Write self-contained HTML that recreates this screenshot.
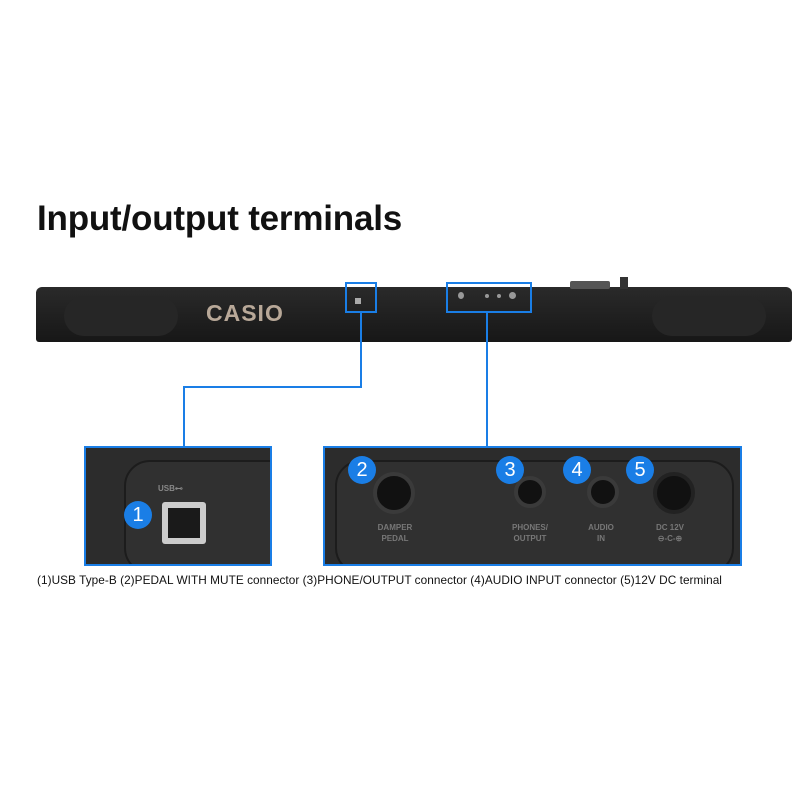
<!DOCTYPE html>
<html><head><style>
body{margin:0;width:800px;height:800px;background:#fff;position:relative;overflow:hidden;font-family:"Liberation Sans",sans-serif}
.a{position:absolute}
.num{position:absolute;width:28px;height:28px;border-radius:50%;background:#1a7ee6;color:#fff;font-size:20px;text-align:center;line-height:28px}
.jack{position:absolute;border-radius:50%;background:#111;border:4px solid #3a3a3a}
.lbl{position:absolute;color:#777;font-size:8px;text-align:center;line-height:11px;font-weight:bold}
</style></head><body>
<div class="a" style="left:37px;top:199px;font-size:35px;font-weight:bold;color:#111;letter-spacing:-0.2px">Input/output terminals</div>
<!-- piano -->
<div class="a" style="left:36px;top:287px;width:756px;height:55px;background:linear-gradient(#2a2a2a,#171717);border-radius:6px 6px 3px 3px"></div>
<div class="a" style="left:570px;top:281px;width:40px;height:8px;background:#555;border-radius:2px"></div>
<div class="a" style="left:620px;top:277px;width:8px;height:12px;background:#333"></div>
<div class="a" style="left:64px;top:296px;width:114px;height:40px;border-radius:20px;background:#262626"></div>
<div class="a" style="left:652px;top:296px;width:114px;height:40px;border-radius:20px;background:#262626"></div>
<div class="a" style="left:206px;top:300px;font-size:23px;font-weight:bold;color:#b8a898;letter-spacing:1px">CASIO</div>
<div class="a" style="left:355px;top:298px;width:6px;height:6px;background:#aaa"></div>
<div class="a" style="left:458px;top:292px;width:6px;height:7px;border-radius:50%;background:#999"></div>
<div class="a" style="left:485px;top:294px;width:4px;height:4px;border-radius:50%;background:#999"></div>
<div class="a" style="left:497px;top:294px;width:4px;height:4px;border-radius:50%;background:#999"></div>
<div class="a" style="left:509px;top:292px;width:7px;height:7px;border-radius:50%;background:#999"></div>
<div class="a" style="left:345px;top:282px;width:28px;height:27px;border:2px solid #1a7ee6"></div>
<div class="a" style="left:446px;top:282px;width:82px;height:27px;border:2px solid #1a7ee6"></div>
<!-- connectors -->
<div class="a" style="left:360px;top:311px;width:2px;height:77px;background:#1a7ee6"></div>
<div class="a" style="left:183px;top:386px;width:179px;height:2px;background:#1a7ee6"></div>
<div class="a" style="left:183px;top:386px;width:2px;height:62px;background:#1a7ee6"></div>
<div class="a" style="left:486px;top:311px;width:2px;height:137px;background:#1a7ee6"></div>
<!-- left panel -->
<div class="a" style="left:84px;top:446px;width:184px;height:116px;border:2px solid #1a7ee6;background:#2c2c2c;overflow:hidden">
 <div class="a" style="left:38px;top:12px;width:200px;height:110px;border:2px solid #1c1c1c;border-radius:26px;background:#303030"></div>
</div>
<div class="lbl" style="left:158px;top:483px;color:#888">USB⊷</div>
<div class="a" style="left:162px;top:502px;width:44px;height:42px;background:#ccc;border-radius:3px"></div>
<div class="a" style="left:168px;top:508px;width:32px;height:30px;background:#1a1a1a"></div>
<div class="num" style="left:124px;top:501px">1</div>
<!-- right panel -->
<div class="a" style="left:323px;top:446px;width:415px;height:116px;border:2px solid #1a7ee6;background:#2c2c2c;overflow:hidden">
 <div class="a" style="left:10px;top:12px;width:395px;height:110px;border:2px solid #1c1c1c;border-radius:26px;background:#303030"></div>
</div>
<div class="jack" style="left:373px;top:472px;width:34px;height:34px"></div>
<div class="jack" style="left:514px;top:476px;width:24px;height:24px"></div>
<div class="jack" style="left:587px;top:476px;width:24px;height:24px"></div>
<div class="jack" style="left:653px;top:472px;width:34px;height:34px;border-color:#222"></div>
<div class="num" style="left:348px;top:456px">2</div>
<div class="num" style="left:496px;top:456px">3</div>
<div class="num" style="left:563px;top:456px">4</div>
<div class="num" style="left:626px;top:456px">5</div>
<div class="lbl" style="left:365px;top:522px;width:60px">DAMPER<br>PEDAL</div>
<div class="lbl" style="left:500px;top:522px;width:60px">PHONES/<br>OUTPUT</div>
<div class="lbl" style="left:571px;top:522px;width:60px">AUDIO<br>IN</div>
<div class="lbl" style="left:640px;top:522px;width:60px">DC 12V<br>⊖-C-⊕</div>
<div class="a" style="left:37px;top:573px;font-size:11.8px;color:#111;white-space:nowrap;letter-spacing:0.05px">(1)USB Type-B (2)PEDAL WITH MUTE connector (3)PHONE/OUTPUT connector (4)AUDIO INPUT connector (5)12V DC terminal</div>
</body></html>
